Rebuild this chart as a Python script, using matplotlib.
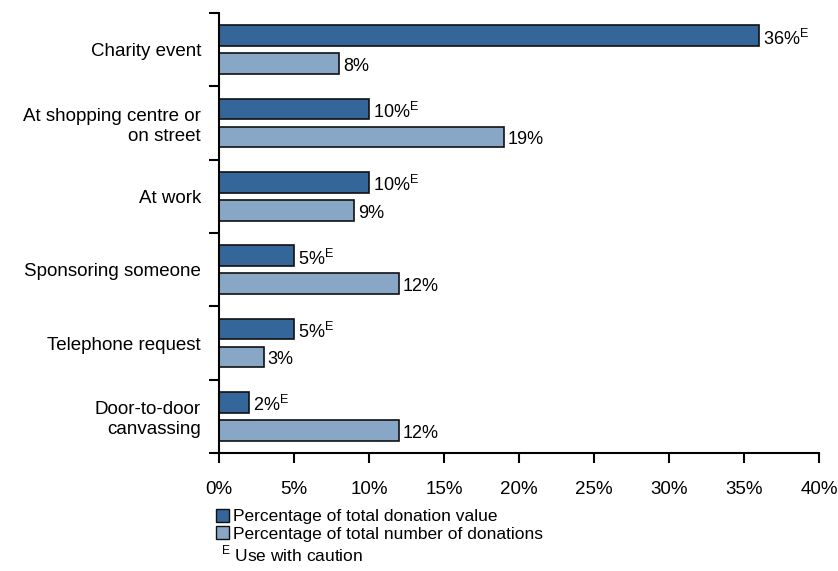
import numpy as np
import matplotlib.pyplot as plt
from matplotlib.patches import Patch

plt.rcParams['font.family'] = ['Liberation Sans', 'DejaVu Sans']
plt.rcParams['mathtext.fontset'] = 'custom'
plt.rcParams['mathtext.rm'] = 'Liberation Sans'

categories = ['Charity event', 'At shopping centre or\non street', 'At work',
              'Sponsoring someone', 'Telephone request', 'Door-to-door\ncanvassing']
value_pct = [36, 10, 10, 5, 5, 2]
number_pct = [8, 19, 9, 12, 3, 12]
value_caution = [True, True, True, True, True, True]
x_ticks = [0, 5, 10, 15, 20, 25, 30, 35, 40]

dark = '#346699'
light = '#88a7c6'

fig = plt.figure(figsize=(8.38, 5.71), dpi=100)
ax = fig.add_axes([219 / 838, 1 - 453 / 571, 600 / 838, 440 / 571])

y = np.arange(len(categories))
h = 0.28
off = 0.19
ax.barh(y - off, value_pct, height=h, color=dark, edgecolor='#111111', linewidth=1.2)
ax.barh(y + off, number_pct, height=h, color=light, edgecolor='#111111', linewidth=1.2)

# value labels, E marks the estimates to use with caution
for i in range(len(categories)):
    lab = f'{value_pct[i]}%' + (r'$^{\mathrm{E}}$' if value_caution[i] else '')
    ax.text(value_pct[i] + 0.25, y[i] - off + 0.04, lab, va='center', ha='left', fontsize=13)
    ax.text(number_pct[i] + 0.25, y[i] + off + 0.04, f'{number_pct[i]}%', va='center', ha='left', fontsize=13)

ax.set_xlim(0, 40)
ax.set_ylim(len(categories) - 0.5, -0.5)
ax.set_xticks(x_ticks)
ax.set_xticklabels([f'{t}%' for t in x_ticks], fontsize=13.5)
ax.set_yticks(np.arange(len(categories) + 1) - 0.5)
ax.set_yticklabels([])
ax.set_yticks(y, minor=True)
ax.set_yticklabels(categories, minor=True, fontsize=13.5, ha='right', multialignment='right')
ax.tick_params(axis='y', which='minor', length=0, pad=13)
ax.tick_params(axis='y', which='major', length=7, width=1.5, direction='out')
ax.tick_params(axis='x', length=7, width=1.5, direction='out', pad=13)
for s in ['top', 'right']:
    ax.spines[s].set_visible(False)
ax.spines['left'].set_linewidth(1.5)
ax.spines['bottom'].set_linewidth(1.5)

handles = [Patch(facecolor=dark, edgecolor='#111111'),
           Patch(facecolor=light, edgecolor='#111111')]
fig.legend(handles, ['Percentage of total donation value', 'Percentage of total number of donations'],
           loc='upper left', bbox_to_anchor=(216 / 838, 1 - 509 / 571), frameon=False,
           fontsize=12.5, handlelength=0.75, handleheight=0.75, handletextpad=0.25,
           labelspacing=0.12, borderaxespad=0, borderpad=0)
fig.text(221 / 838, 1 - 561 / 571, r'$^{\mathrm{E}}$ Use with caution', fontsize=12.5, va='baseline')

fig.savefig('out.png', dpi=100)
